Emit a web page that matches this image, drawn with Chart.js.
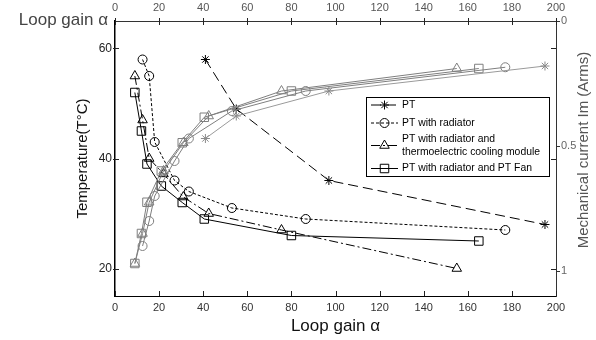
<!DOCTYPE html>
<html>
<head>
<meta charset="utf-8">
<script src="https://cdn.jsdelivr.net/npm/chart.js"></script>
<style>
  html, body { margin: 0; padding: 0; background: #fff; }
  #chart { display: block; }
</style>
</head>
<body>
<canvas id="chart" width="596" height="340"></canvas>
<script>
// Loop gain (x) for each configuration
const gainPT = [41, 55, 97, 195]
const gainRad = [12.5, 15.5, 18, 27, 33.5, 53, 86.5, 177]
const gainTec = [9, 12.5, 15.5, 22, 31, 42.5, 75.5, 155]
const gainFan = [9, 12, 14.5, 21, 30.5, 40.5, 80, 165]

// Temperature (left axis, black curves)
const tempPT = [58, 49, 36, 28]
const tempRad = [58, 55, 43, 36, 34, 31, 29, 27]
const tempTec = [55, 47, 40, 37.2, 33, 30, 27, 20]
const tempFan = [52, 45, 39, 35, 32, 29, 26, 25]

// Mechanical current (right axis, reversed, gray curves)
const currentPT = [0.47, 0.38, 0.28, 0.18]
const currentRad = [0.90, 0.80, 0.70, 0.56, 0.47, 0.36, 0.28, 0.185]
const currentTec = [0.97, 0.85, 0.725, 0.60, 0.487, 0.38, 0.28, 0.19]
const currentFan = [0.97, 0.85, 0.725, 0.60, 0.487, 0.385, 0.28, 0.19]

const seriesNames = ["PT", "PT with radiator", "PT with radiator and|thermoelectric cooling module", "PT with radiator and PT Fan"]

const xTicks = [0, 20, 40, 60, 80, 100, 120, 140, 160, 180, 200]
const tempTicks = [20, 40, 60]
const currentTicks = [0, 0.5, 1]

const FONT = "'Liberation Sans', Arial, Helvetica, sans-serif"
const GRAY = "#7f7f7f"

const pts = (xs, ys) => xs.map((x, i) => ({ x, y: ys[i] }))

const styles = [
  { marker: "star", radius: 4.5, dash: [10, 5] },
  { marker: "circle", radius: 4.5, dash: [3, 2] },
  { marker: "triangle", radius: 5.5, dash: [9, 3, 2, 3] },
  { marker: "rect", radius: 6, dash: [] },
]

function blackSet(i, xs, ys) {
  const s = styles[i]
  return {
    label: seriesNames[i],
    data: pts(xs, ys),
    yAxisID: "y",
    borderColor: "#000",
    borderWidth: 1,
    borderDash: s.dash,
    pointStyle: s.marker,
    pointRadius: s.radius,
    pointBorderColor: "#000",
    pointBackgroundColor: "rgba(0,0,0,0)",
    pointBorderWidth: 1,
    tension: 0,
    fill: false,
  }
}

function graySet(i, xs, ys) {
  const s = styles[i]
  return {
    label: seriesNames[i] + " (current)",
    data: pts(xs, ys),
    yAxisID: "y2",
    borderColor: i === 0 ? "#9a9a9a" : GRAY,
    borderWidth: 1,
    pointStyle: s.marker,
    pointRadius: s.radius,
    pointBorderColor: i === 0 ? "#8a8a8a" : GRAY,
    pointBackgroundColor: "rgba(0,0,0,0)",
    pointBorderWidth: 1,
    tension: 0,
    fill: false,
  }
}

function drawMarker(ctx, type, r, x, y) {
  ctx.beginPath()
  if (type === "circle") {
    ctx.arc(x, y, r, 0, Math.PI * 2)
  } else if (type === "triangle") {
    for (let k = 0; k < 3; k++) {
      const a = -Math.PI / 2 + k * 2 * Math.PI / 3
      const px = x + Math.cos(a) * r, py = y + Math.sin(a) * r
      k === 0 ? ctx.moveTo(px, py) : ctx.lineTo(px, py)
    }
    ctx.closePath()
  } else if (type === "rect") {
    const h = r * Math.SQRT1_2
    ctx.rect(x - h, y - h, 2 * h, 2 * h)
  } else {
    for (let k = 0; k < 4; k++) {
      const a = k * Math.PI / 4
      ctx.moveTo(x - Math.cos(a) * r, y - Math.sin(a) * r)
      ctx.lineTo(x + Math.cos(a) * r, y + Math.sin(a) * r)
    }
  }
  ctx.stroke()
}

// MATLAB-like inward tick marks on all four sides
const innerTicks = {
  id: "innerTicks",
  afterDatasetsDraw(chart) {
    const { ctx, chartArea: a, scales } = chart
    ctx.save()
    ctx.strokeStyle = "#222"
    ctx.lineWidth = 1
    ctx.beginPath()
    xTicks.forEach(v => {
      const px = Math.round(scales.x.getPixelForValue(v)) + 0.5
      ctx.moveTo(px, a.bottom); ctx.lineTo(px, a.bottom - 5)
      ctx.moveTo(px, a.top - 3); ctx.lineTo(px, a.top + 4)
    })
    tempTicks.forEach(v => {
      const py = Math.round(scales.y.getPixelForValue(v)) + 0.5
      ctx.moveTo(a.left - 2, py); ctx.lineTo(a.left + 4, py)
      ctx.moveTo(a.right, py); ctx.lineTo(a.right - 5, py)
    })
    ctx.stroke()
    ctx.restore()
  }
}

// legend box, top-left label, right axis title
const extras = {
  id: "extras",
  afterDraw(chart) {
    const { ctx } = chart
    ctx.save()

    ctx.fillStyle = "#444"
    ctx.font = "17px " + FONT
    ctx.textAlign = "right"
    ctx.textBaseline = "middle"
    ctx.fillText("Loop gain α", 108, 20)

    ctx.save()
    ctx.translate(584, 150)
    ctx.rotate(-Math.PI / 2)
    ctx.textAlign = "center"
    ctx.fillStyle = "#555"
    ctx.font = "15px " + FONT
    ctx.fillText("Mechanical current Im (Arms)", 0, 0)
    ctx.restore()

    // legend
    const bx = 366.5, by = 97.5, bw = 183, bh = 79
    ctx.fillStyle = "#fff"
    ctx.fillRect(bx, by, bw, bh)
    ctx.strokeStyle = "#000"
    ctx.lineWidth = 1
    ctx.strokeRect(bx, by, bw, bh)

    const rows = [105, 123, 145.5, 168.5]
    ctx.font = "10.4px " + FONT
    ctx.textAlign = "left"
    ctx.textBaseline = "middle"
    seriesNames.forEach((name, i) => {
      const s = styles[i]
      const y = rows[i]
      ctx.strokeStyle = "#000"
      ctx.setLineDash(s.dash)
      ctx.beginPath()
      ctx.moveTo(371, y); ctx.lineTo(398, y)
      ctx.stroke()
      ctx.setLineDash([])
      drawMarker(ctx, s.marker, s.radius, 384.5, y)
      ctx.fillStyle = "#000"
      const lines = name.split("|")
      if (lines.length === 2) {
        ctx.fillText(lines[0], 402, y - 6)
        ctx.fillText(lines[1], 402, y + 6.5)
      } else {
        ctx.fillText(lines[0], 402, y)
      }
    })
    ctx.restore()
  }
}

new Chart(document.getElementById("chart"), {
  type: "line",
  data: {
    datasets: [
      graySet(0, gainPT, currentPT),
      graySet(1, gainRad, currentRad),
      graySet(2, gainTec, currentTec),
      graySet(3, gainFan, currentFan),
      blackSet(0, gainPT, tempPT),
      blackSet(1, gainRad, tempRad),
      blackSet(2, gainTec, tempTec),
      blackSet(3, gainFan, tempFan),
    ]
  },
  options: {
    responsive: false,
    animation: false,
    layout: { padding: { left: 70, top: 0, right: 0, bottom: 0 } },
    plugins: {
      legend: { display: false },
      tooltip: { enabled: false },
    },
    scales: {
      x: {
        type: "linear",
        position: "bottom",
        min: 0,
        max: 200,
        afterBuildTicks: (s) => { s.ticks = xTicks.map(v => ({ value: v })) },
        afterFit: (s) => { s.height = 44 },
        grid: { drawOnChartArea: false, drawTicks: false },
        border: { color: "#000", width: 1 },
        ticks: { color: "#333", font: { family: FONT, size: 11 }, padding: 5, maxRotation: 0, autoSkip: false },
        title: { display: true, text: "Loop gain α", color: "#111", font: { family: FONT, size: 17 }, padding: { top: 0, bottom: 3 } },
      },
      x2: {
        type: "linear",
        position: "top",
        min: 0,
        max: 200,
        afterBuildTicks: (s) => { s.ticks = xTicks.map(v => ({ value: v })) },
        afterFit: (s) => { s.height = 21 },
        grid: { drawOnChartArea: false, drawTicks: false },
        border: { color: "#333", width: 1 },
        ticks: { color: "#555", font: { family: FONT, size: 11 }, padding: 6, maxRotation: 0, autoSkip: false },
      },
      y: {
        type: "linear",
        position: "left",
        min: 15,
        max: 65,
        afterBuildTicks: (s) => { s.ticks = tempTicks.map(v => ({ value: v })) },
        afterFit: (s) => { s.width = 45 },
        grid: { drawOnChartArea: false, drawTicks: false },
        border: { color: "#000", width: 1.5 },
        ticks: { color: "#222", font: { family: FONT, size: 12 }, padding: 3 },
        title: { display: true, text: "Temperature(T°C)", color: "#111", font: { family: FONT, size: 15 }, padding: { top: 4, bottom: 0 } },
      },
      y2: {
        type: "linear",
        position: "right",
        reverse: true,
        min: 0,
        max: 1.1,
        afterBuildTicks: (s) => { s.ticks = currentTicks.map(v => ({ value: v })) },
        afterFit: (s) => { s.width = 40 },
        grid: { drawOnChartArea: false, drawTicks: true, tickLength: 4, color: "#333" },
        border: { color: "#333", width: 1 },
        ticks: { color: "#666", font: { family: FONT, size: 11 }, padding: 1, callback: (v) => String(v) },
      },
    }
  },
  plugins: [innerTicks, extras]
})
</script>
</body>
</html>
